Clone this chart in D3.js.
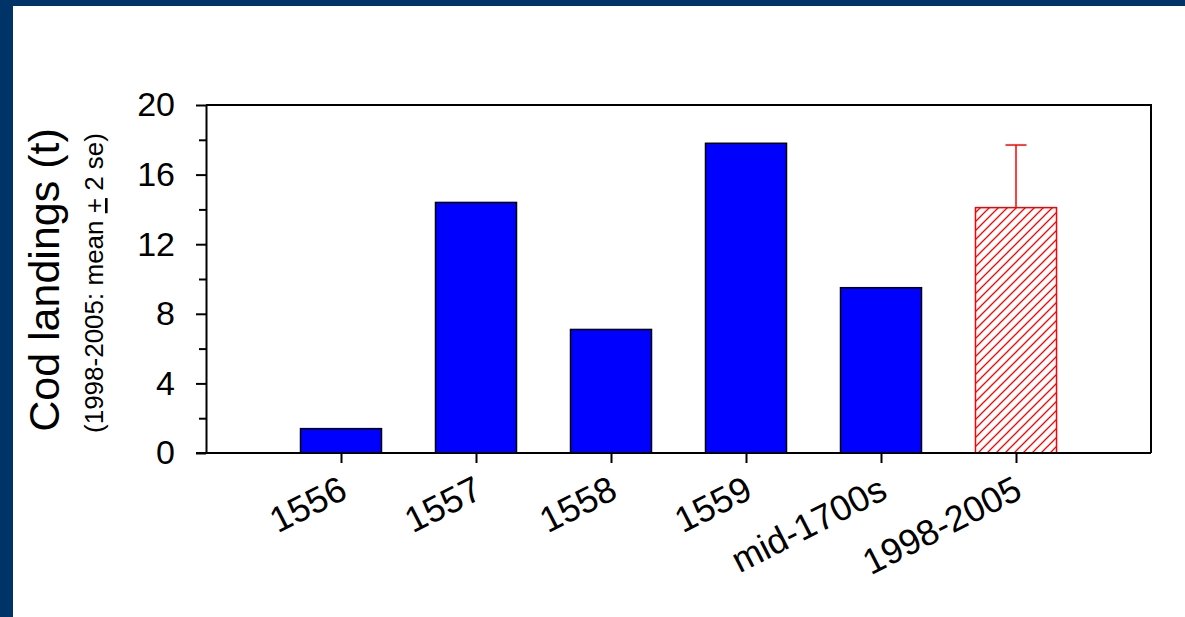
<!DOCTYPE html>
<html>
<head>
<meta charset="utf-8">
<script src="https://cdn.jsdelivr.net/npm/d3@7"></script>
<style>
  body { margin: 0; padding: 0; background: #fff; }
  text { font-family: Arial, "Liberation Sans", sans-serif; fill: #000; }
</style>
</head>
<body>
<div id="container"></div>
<script>
/* CONSTANTS AND GLOBALS */
const width = 1185,
  height = 617,
  margin = {top: 105, bottom: 164, left: 206, right: 34};

// data
const categories = ["1556", "1557", "1558", "1559", "mid-1700s", "1998-2005"];
const landings = [1.4, 14.4, 7.1, 17.8, 9.5, 14.1];
const upperError = [null, null, null, null, null, 17.7];   // mean + 2 se, only the modern bar
const hatched = [false, false, false, false, false, true];
const yTicks = [0, 4, 8, 12, 16, 20];
const yMinorTicks = [2, 6, 10, 14, 18];

const rows = categories.map((c, i) => ({
  cat: c, value: landings[i], err: upperError[i], hatch: hatched[i]
}));

/* SVG */
const svg = d3.select("#container")
  .append("svg")
  .attr("width", width)
  .attr("height", height);

// navy frame (top and left only)
svg.append("rect").attr("width", width).attr("height", height).attr("fill", "#003468");
svg.append("rect").attr("x", 13).attr("y", 6)
  .attr("width", width - 13).attr("height", height - 6).attr("fill", "#fff");

// hatch pattern for the 1998-2005 bar
const defs = svg.append("defs");
defs.append("pattern")
  .attr("id", "hatch")
  .attr("patternUnits", "userSpaceOnUse")
  .attr("width", 9).attr("height", 9)
  .append("path")
  .attr("d", "M-2,2 L2,-2 M0,9 L9,0 M7,11 L11,7")
  .attr("stroke", "#ff0000")
  .attr("stroke-width", 1.3);

/* SCALES */
const xScale = d3.scalePoint()
  .domain(categories)
  .range([margin.left, width - margin.right])
  .padding(1);

const yScale = d3.scaleLinear()
  .domain([0, 20])
  .range([height - margin.bottom, margin.top]);

const barW = xScale.step() * 0.6;

/* BARS */
svg.selectAll("rect.bar")
  .data(rows)
  .join("rect")
  .attr("class", "bar")
  .attr("x", d => xScale(d.cat) - barW / 2)
  .attr("y", d => yScale(d.value))
  .attr("width", barW)
  .attr("height", d => yScale(0) - yScale(d.value))
  .attr("fill", d => d.hatch ? "url(#hatch)" : "#0000ff")
  .attr("stroke", d => d.hatch ? "#ff0000" : "#000")
  .attr("stroke-width", 1.5);

// error bar (upper whisker only)
const errRows = rows.filter(d => d.err != null);
svg.selectAll("line.err")
  .data(errRows)
  .join("line")
  .attr("class", "err")
  .attr("x1", d => xScale(d.cat)).attr("x2", d => xScale(d.cat))
  .attr("y1", d => yScale(d.value)).attr("y2", d => yScale(d.err))
  .attr("stroke", "#ff0000").attr("stroke-width", 1.5);
svg.selectAll("line.cap")
  .data(errRows)
  .join("line")
  .attr("class", "cap")
  .attr("x1", d => xScale(d.cat) - 10.5).attr("x2", d => xScale(d.cat) + 10.5)
  .attr("y1", d => yScale(d.err)).attr("y2", d => yScale(d.err))
  .attr("stroke", "#ff0000").attr("stroke-width", 1.5);

/* FRAME LINES top and right */
svg.append("path")
  .attr("d", `M${margin.left},${yScale(20)} H${width - margin.right} V${yScale(0)}`)
  .attr("fill", "none")
  .attr("stroke", "#000")
  .attr("stroke-width", 2);

/* AXES */
const yAxis = d3.axisLeft(yScale).tickValues(yTicks).tickSize(10).tickSizeOuter(0).tickPadding(21);
const yMinor = d3.axisLeft(yScale).tickValues(yMinorTicks).tickSize(7).tickSizeOuter(0).tickFormat("");
const xAxis = d3.axisBottom(xScale).tickSize(10).tickSizeOuter(0).tickFormat("");

const yAxisGroup = svg.append("g")
  .attr("transform", `translate(${margin.left},0)`)
  .call(yAxis);
svg.append("g")
  .attr("transform", `translate(${margin.left},0)`)
  .call(yMinor);

const xAxisGroup = svg.append("g")
  .attr("transform", `translate(0,${height - margin.bottom})`)
  .call(xAxis);

[yAxisGroup, xAxisGroup].forEach(g => {
  g.select(".domain").attr("stroke", "#000").attr("stroke-width", 2);
});
svg.selectAll(".tick line").attr("stroke", "#000").attr("stroke-width", 2);
// extend bottom axis line to meet the 0 tick
xAxisGroup.select(".domain").attr("d", `M${margin.left - 10},0 H${width - margin.right}`);

yAxisGroup.selectAll(".tick text")
  .attr("font-size", 34)
  .attr("font-family", "Arial, 'Liberation Sans', sans-serif")
  .attr("fill", "#000");

// rotated category labels
xAxisGroup.selectAll(".tick")
  .append("text")
  .attr("text-anchor", "end")
  .attr("font-size", 36)
  .attr("fill", "#000")
  .attr("transform", "translate(2,33) rotate(-27)")
  .attr("dy", "0.35em")
  .text(d => d);

/* AXIS TITLES */
svg.append("text")
  .attr("transform", "translate(59,280) rotate(-90)")
  .attr("text-anchor", "middle")
  .attr("font-size", 43)
  .text("Cod landings (t)");

const sub = svg.append("text")
  .attr("transform", "translate(103,283) rotate(-90)")
  .attr("text-anchor", "middle")
  .attr("font-size", 26);
sub.append("tspan").text("(1998-2005: mean ");
sub.append("tspan").style("text-decoration", "underline").text("+");
sub.append("tspan").text(" 2 se)");
</script>
</body>
</html>
